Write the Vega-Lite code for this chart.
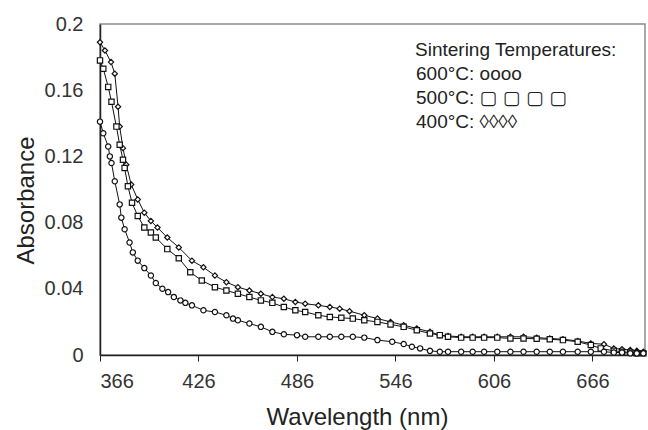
{
  "$schema": "https://vega.github.io/schema/vega-lite/v6.json",
  "width": 545,
  "height": 331,
  "autosize": {"type": "none"},
  "padding": {"left": 100, "top": 24, "right": 3, "bottom": 75},
  "background": "white",
  "config": {
    "font": "Liberation Sans",
    "view": {"stroke": "#8c8c8c", "strokeWidth": 1.5},
    "axis": {"grid": false, "domainColor": "#222", "domainWidth": 1.5, "tickColor": "#222", "labelColor": "#333", "titleColor": "#222", "labelFont": "Liberation Sans", "titleFont": "Liberation Sans", "labelFontSize": 20, "titleFontSize": 24, "titleFontWeight": "normal"}
  },
  "data": {"values": [
    {"s":"400°C","w":366,"a":0.189},{"s":"400°C","w":369,"a":0.184},{"s":"400°C","w":372.7,"a":0.177},{"s":"400°C","w":375,"a":0.170},{"s":"400°C","w":377,"a":0.150},{"s":"400°C","w":378,"a":0.138},{"s":"400°C","w":380,"a":0.125},{"s":"400°C","w":382,"a":0.115},{"s":"400°C","w":385,"a":0.103},{"s":"400°C","w":389,"a":0.094},{"s":"400°C","w":393,"a":0.086},{"s":"400°C","w":397,"a":0.081},{"s":"400°C","w":401,"a":0.077},{"s":"400°C","w":407,"a":0.071},{"s":"400°C","w":414,"a":0.065},{"s":"400°C","w":422,"a":0.057},{"s":"400°C","w":429,"a":0.053},{"s":"400°C","w":436,"a":0.048},{"s":"400°C","w":443,"a":0.044},{"s":"400°C","w":450,"a":0.041},{"s":"400°C","w":457,"a":0.039},{"s":"400°C","w":464,"a":0.037},{"s":"400°C","w":471,"a":0.035},{"s":"400°C","w":478,"a":0.034},{"s":"400°C","w":485,"a":0.032},{"s":"400°C","w":491,"a":0.031},{"s":"400°C","w":499,"a":0.030},{"s":"400°C","w":506,"a":0.029},{"s":"400°C","w":512,"a":0.028},{"s":"400°C","w":518,"a":0.0265},{"s":"400°C","w":527,"a":0.024},{"s":"400°C","w":535,"a":0.022},{"s":"400°C","w":543,"a":0.020},{"s":"400°C","w":551,"a":0.018},{"s":"400°C","w":559,"a":0.016},{"s":"400°C","w":567,"a":0.014},{"s":"400°C","w":573,"a":0.012},{"s":"400°C","w":578,"a":0.0115},{"s":"400°C","w":586,"a":0.011},{"s":"400°C","w":593,"a":0.011},{"s":"400°C","w":600,"a":0.011},{"s":"400°C","w":608,"a":0.011},{"s":"400°C","w":616,"a":0.011},{"s":"400°C","w":624,"a":0.011},{"s":"400°C","w":632,"a":0.0105},{"s":"400°C","w":640,"a":0.010},{"s":"400°C","w":648,"a":0.0095},{"s":"400°C","w":657,"a":0.0085},{"s":"400°C","w":665,"a":0.007},{"s":"400°C","w":673,"a":0.0065},{"s":"400°C","w":679,"a":0.004},{"s":"400°C","w":684,"a":0.0035},{"s":"400°C","w":689,"a":0.003},{"s":"400°C","w":693,"a":0.0025},{"s":"400°C","w":697,"a":0.002},
    {"s":"500°C","w":366,"a":0.178},{"s":"500°C","w":368,"a":0.173},{"s":"500°C","w":371,"a":0.162},{"s":"500°C","w":373,"a":0.153},{"s":"500°C","w":376,"a":0.138},{"s":"500°C","w":378,"a":0.127},{"s":"500°C","w":380,"a":0.118},{"s":"500°C","w":381,"a":0.113},{"s":"500°C","w":383,"a":0.102},{"s":"500°C","w":385.5,"a":0.092},{"s":"500°C","w":389,"a":0.084},{"s":"500°C","w":393,"a":0.077},{"s":"500°C","w":397,"a":0.074},{"s":"500°C","w":400,"a":0.071},{"s":"500°C","w":407,"a":0.064},{"s":"500°C","w":414,"a":0.0585},{"s":"500°C","w":421,"a":0.050},{"s":"500°C","w":428,"a":0.045},{"s":"500°C","w":436,"a":0.041},{"s":"500°C","w":443,"a":0.039},{"s":"500°C","w":450,"a":0.037},{"s":"500°C","w":457,"a":0.035},{"s":"500°C","w":464,"a":0.033},{"s":"500°C","w":471,"a":0.0315},{"s":"500°C","w":478,"a":0.029},{"s":"500°C","w":485,"a":0.027},{"s":"500°C","w":491,"a":0.026},{"s":"500°C","w":499,"a":0.024},{"s":"500°C","w":506,"a":0.023},{"s":"500°C","w":513,"a":0.0225},{"s":"500°C","w":520,"a":0.022},{"s":"500°C","w":527,"a":0.021},{"s":"500°C","w":535,"a":0.020},{"s":"500°C","w":543,"a":0.0185},{"s":"500°C","w":551,"a":0.017},{"s":"500°C","w":559,"a":0.015},{"s":"500°C","w":567,"a":0.013},{"s":"500°C","w":573,"a":0.012},{"s":"500°C","w":578,"a":0.011},{"s":"500°C","w":586,"a":0.0105},{"s":"500°C","w":593,"a":0.0105},{"s":"500°C","w":600,"a":0.0105},{"s":"500°C","w":608,"a":0.0105},{"s":"500°C","w":616,"a":0.010},{"s":"500°C","w":624,"a":0.010},{"s":"500°C","w":632,"a":0.0098},{"s":"500°C","w":640,"a":0.0095},{"s":"500°C","w":648,"a":0.009},{"s":"500°C","w":657,"a":0.008},{"s":"500°C","w":665,"a":0.006},{"s":"500°C","w":671,"a":0.004},{"s":"500°C","w":679,"a":0.0025},{"s":"500°C","w":684,"a":0.002},{"s":"500°C","w":689,"a":0.0015},{"s":"500°C","w":693,"a":0.001},{"s":"500°C","w":697,"a":0.001},
    {"s":"600°C","w":366,"a":0.141},{"s":"600°C","w":368,"a":0.134},{"s":"600°C","w":371,"a":0.126},{"s":"600°C","w":372,"a":0.120},{"s":"600°C","w":373,"a":0.116},{"s":"600°C","w":375,"a":0.105},{"s":"600°C","w":378,"a":0.091},{"s":"600°C","w":379,"a":0.083},{"s":"600°C","w":381,"a":0.076},{"s":"600°C","w":384,"a":0.068},{"s":"600°C","w":386,"a":0.062},{"s":"600°C","w":389,"a":0.057},{"s":"600°C","w":393,"a":0.0525},{"s":"600°C","w":397,"a":0.048},{"s":"600°C","w":400,"a":0.0435},{"s":"600°C","w":404,"a":0.040},{"s":"600°C","w":407.5,"a":0.038},{"s":"600°C","w":411,"a":0.035},{"s":"600°C","w":415,"a":0.033},{"s":"600°C","w":418,"a":0.0315},{"s":"600°C","w":422,"a":0.030},{"s":"600°C","w":429,"a":0.027},{"s":"600°C","w":436,"a":0.026},{"s":"600°C","w":443,"a":0.024},{"s":"600°C","w":447,"a":0.022},{"s":"600°C","w":450,"a":0.021},{"s":"600°C","w":457,"a":0.019},{"s":"600°C","w":464,"a":0.017},{"s":"600°C","w":471,"a":0.014},{"s":"600°C","w":478,"a":0.0125},{"s":"600°C","w":486,"a":0.012},{"s":"600°C","w":491,"a":0.011},{"s":"600°C","w":499,"a":0.011},{"s":"600°C","w":506,"a":0.011},{"s":"600°C","w":513,"a":0.011},{"s":"600°C","w":520,"a":0.011},{"s":"600°C","w":527,"a":0.0105},{"s":"600°C","w":535,"a":0.009},{"s":"600°C","w":544,"a":0.008},{"s":"600°C","w":551,"a":0.0066},{"s":"600°C","w":556,"a":0.005},{"s":"600°C","w":561,"a":0.004},{"s":"600°C","w":567,"a":0.0025},{"s":"600°C","w":573,"a":0.002},{"s":"600°C","w":578,"a":0.002},{"s":"600°C","w":586,"a":0.002},{"s":"600°C","w":593,"a":0.002},{"s":"600°C","w":600,"a":0.002},{"s":"600°C","w":608,"a":0.002},{"s":"600°C","w":616,"a":0.002},{"s":"600°C","w":624,"a":0.002},{"s":"600°C","w":632,"a":0.002},{"s":"600°C","w":640,"a":0.002},{"s":"600°C","w":648,"a":0.002},{"s":"600°C","w":657,"a":0.002},{"s":"600°C","w":665,"a":0.002},{"s":"600°C","w":673,"a":0.002},{"s":"600°C","w":679,"a":0.0015},{"s":"600°C","w":684,"a":0.0015},{"s":"600°C","w":689,"a":0.001},{"s":"600°C","w":693,"a":0.001},{"s":"600°C","w":697,"a":0.001}
  ]},
  "encoding": {
    "x": {"field": "w", "type": "quantitative", "scale": {"domain": [366, 698], "nice": false, "zero": false},
      "axis": {"values": [366, 426, 486, 546, 606, 666], "title": "Wavelength (nm)", "tickSize": 6, "labelPadding": 10, "titleX": 257, "titleY": 69, "titleBaseline": "alphabetic", "titleAnchor": "middle"}},
    "y": {"field": "a", "type": "quantitative", "scale": {"domain": [0, 0.2], "nice": false},
      "axis": {"values": [0, 0.04, 0.08, 0.12, 0.16, 0.2], "format": "~g", "title": "Absorbance", "ticks": false, "labelPadding": 17, "titleX": -67, "titleY": 176, "titleBaseline": "alphabetic", "titleAnchor": "middle"}}
  },
  "layer": [
    {"mark": {"type": "line", "color": "#111", "strokeWidth": 1}, "encoding": {"detail": {"field": "s"}}},
    {"mark": {"type": "point", "filled": false, "fill": "white", "fillOpacity": 1, "stroke": "#111", "strokeWidth": 1.2, "size": 28, "opacity": 1},
      "encoding": {"shape": {"field": "s", "type": "nominal", "scale": {"domain": ["600°C", "500°C", "400°C"], "range": ["circle", "square", "diamond"]},
        "legend": {"title": "Sintering Temperatures:", "orient": "none", "legendX": 315, "legendY": 17, "titleLimit": 400, "labelLimit": 400, "titleFontSize": 19, "titleFontWeight": "normal", "titleColor": "#222", "titleFont": "Liberation Sans", "labelFont": "Liberation Sans, DejaVu Sans", "labelFontSize": 19, "labelColor": "#222", "symbolOpacity": 0, "symbolSize": 0, "symbolStrokeWidth": 0, "labelOffset": -18, "rowPadding": 4, "titlePadding": 4,
          "labelExpr": "datum.label == '600°C' ? '600°C: oooo' : datum.label == '500°C' ? '500°C: \u25a2 \u25a2 \u25a2 \u25a2' : '400°C: ◊◊◊◊'"}}}}
  ]
}
